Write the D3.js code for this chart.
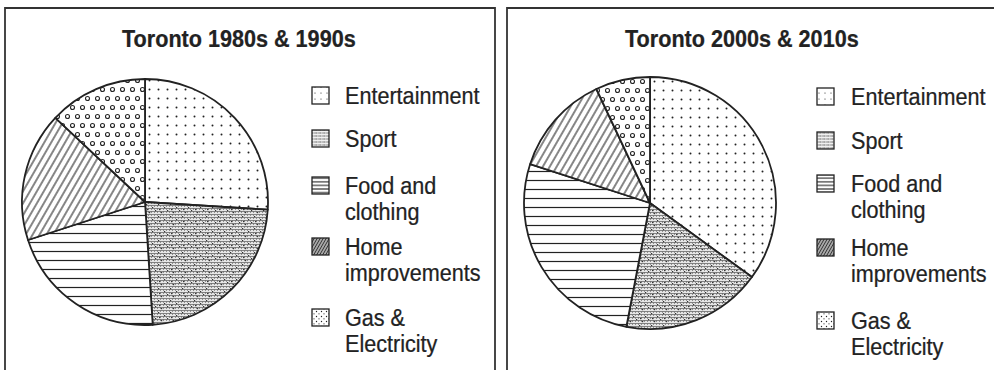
<!DOCTYPE html>
<html>
<head>
<meta charset="utf-8">
<script src="https://cdn.jsdelivr.net/npm/d3@7"></script>
<style>
  html, body { margin: 0; padding: 0; background: #fff; }
  svg { display: block; }
  text { font-family: "Liberation Sans", Arial, Helvetica, sans-serif; fill: #222; }
</style>
</head>
<body>
<svg id="chart" width="994" height="370"></svg>
<script>
// Household spending shares in Toronto, two periods
const categories = ["Entertainment", "Sport", "Food and clothing", "Home improvements", "Gas & Electricity"];
const legendLines = [["Entertainment"], ["Sport"], ["Food and", "clothing"], ["Home", "improvements"], ["Gas &", "Electricity"]];
const titles = ["Toronto 1980s & 1990s", "Toronto 2000s & 2010s"];
const values1980s1990s = [26, 23, 21, 17, 13];
const values2000s2010s = [35, 18, 27, 13, 7];

const svg = d3.select("#chart");
const ink = "#222";
const defs = svg.append("defs");

// ---- fill patterns ----
function pattern(id, w, h, attrs) {
  const p = defs.append("pattern").attr("id", id)
    .attr("patternUnits", "userSpaceOnUse").attr("width", w).attr("height", h);
  if (attrs) Object.entries(attrs).forEach(([k, v]) => p.attr(k, v));
  p.append("rect").attr("width", w).attr("height", h).attr("fill", "#fff");
  return p;
}

// sparse dots
const pDots = pattern("p-ent", 9, 9);
pDots.append("circle").attr("cx", 4.5).attr("cy", 4.5).attr("r", 1).attr("fill", ink);

// grey mesh
const pMesh = pattern("p-sport", 12, 12);
pMesh.select("rect").attr("fill", "#e6e6e6");
for (let i = 0; i < 4; i++) {
  pMesh.append("line").attr("x1", 0).attr("x2", 12).attr("y1", i * 3 + 0.5).attr("y2", i * 3 + 0.5)
    .attr("stroke", "#6a6a6a").attr("stroke-width", 0.8);
  pMesh.append("line").attr("y1", 0).attr("y2", 12).attr("x1", i * 3 + 0.5).attr("x2", i * 3 + 0.5)
    .attr("stroke", "#7a7a7a").attr("stroke-width", 0.8).attr("stroke-dasharray", "2 1");
}
[[1, 2], [7, 5], [4, 10], [10, 8], [2, 7]].forEach(([x, y]) =>
  pMesh.append("rect").attr("x", x).attr("y", y).attr("width", 1.2).attr("height", 1.2).attr("fill", "#333"));

// horizontal rules
const pLines = pattern("p-food", 9, 9);
pLines.append("line").attr("x1", 0).attr("x2", 9).attr("y1", 4.5).attr("y2", 4.5)
  .attr("stroke", ink).attr("stroke-width", 1.2);

// diagonal hatch
const pHatch = pattern("p-home", 6, 6, { patternTransform: "rotate(30)" });
pHatch.append("line").attr("x1", 3).attr("x2", 3).attr("y1", 0).attr("y2", 6)
  .attr("stroke", ink).attr("stroke-width", 1.1);

// small rings, staggered
const pRings = pattern("p-gas", 10, 18);
[[2.5, 4.5], [7.5, 13.5]].forEach(([x, y]) =>
  pRings.append("circle").attr("cx", x).attr("cy", y).attr("r", 2)
    .attr("fill", "none").attr("stroke", ink).attr("stroke-width", 1.1));

const fills = ["url(#p-ent)", "url(#p-sport)", "url(#p-food)", "url(#p-home)", "url(#p-gas)"];

// legend swatch patterns (finer)
const sDots = pattern("s-ent", 6, 6);
sDots.append("circle").attr("cx", 3).attr("cy", 3).attr("r", 0.6).attr("fill", ink);
const sMesh = pattern("s-sport", 4, 3);
sMesh.select("rect").attr("fill", "#f0f0f0");
sMesh.append("line").attr("x1", 0).attr("x2", 4).attr("y1", 1).attr("y2", 1)
  .attr("stroke", "#555").attr("stroke-width", 0.9).attr("stroke-dasharray", "1.5 0.8");
const sLines = pattern("s-food", 4, 3.6);
sLines.append("line").attr("x1", 0).attr("x2", 4).attr("y1", 1.8).attr("y2", 1.8)
  .attr("stroke", ink).attr("stroke-width", 1.1);
const sHatch = pattern("s-home", 2.6, 2.6, { patternTransform: "rotate(30)" });
sHatch.select("rect").attr("fill", "#bbb");
sHatch.append("line").attr("x1", 1.3).attr("x2", 1.3).attr("y1", 0).attr("y2", 2.6)
  .attr("stroke", "#333").attr("stroke-width", 1.1);
const sGas = pattern("s-gas", 5, 5);
sGas.append("circle").attr("cx", 1.5).attr("cy", 1.5).attr("r", 0.7).attr("fill", ink);
sGas.append("circle").attr("cx", 4).attr("cy", 3.8).attr("r", 0.6).attr("fill", ink);
const swatchFills = ["url(#s-ent)", "url(#s-sport)", "url(#s-food)", "url(#s-home)", "url(#s-gas)"];

// ---- panel frames ----
const frame = svg.append("g").attr("fill", "none").attr("stroke", "#333").attr("stroke-width", 1.8);
frame.append("path").attr("d", "M5,372 V8 H495 V372");
frame.append("path").attr("d", "M507,372 V8 H996");

// ---- panels ----
const panels = [
  { title: titles[0], values: values1980s1990s, cx: 145, cy: 202, r: 123, titleX: 122, legX: 312, textX: 345, legY: [87, 130, 177, 238, 309], lineStep: 26 },
  { title: titles[1], values: values2000s2010s, cx: 650, cy: 203, r: 126, titleX: 625, legX: 817, textX: 851, legY: [88, 132, 175, 239, 312], lineStep: 26 }
];

const pie = d3.pie().sort(null).value(d => d);
const TEXT_SX = 0.9;

panels.forEach(p => {
  const g = svg.append("g");

  // title
  g.append("text")
    .attr("transform", `translate(${p.titleX},47) scale(${TEXT_SX},1)`)
    .attr("font-size", 24).attr("font-weight", "bold")
    .attr("stroke", ink).attr("stroke-width", 0.25)
    .text(p.title);

  // pie
  const arc = d3.arc().innerRadius(0).outerRadius(p.r);
  g.append("g").attr("transform", `translate(${p.cx},${p.cy})`)
    .selectAll("path").data(pie(p.values)).join("path")
    .attr("d", arc)
    .attr("fill", (d, i) => fills[i])
    .attr("stroke", ink).attr("stroke-width", 1.8).attr("stroke-linejoin", "round");

  // legend
  const leg = g.append("g");
  categories.forEach((c, i) => {
    const y0 = p.legY[i];
    leg.append("rect").attr("x", p.legX).attr("y", y0).attr("width", 17).attr("height", 17)
      .attr("fill", swatchFills[i]).attr("stroke", ink).attr("stroke-width", 1.3);
    legendLines[i].forEach((line, j) => {
      leg.append("text")
        .attr("transform", `translate(${p.textX},${y0 + 17 + j * p.lineStep}) scale(${TEXT_SX},1)`)
        .attr("font-size", 24)
        .attr("stroke", ink).attr("stroke-width", 0.25)
        .text(line);
    });
  });
});
</script>
</body>
</html>
